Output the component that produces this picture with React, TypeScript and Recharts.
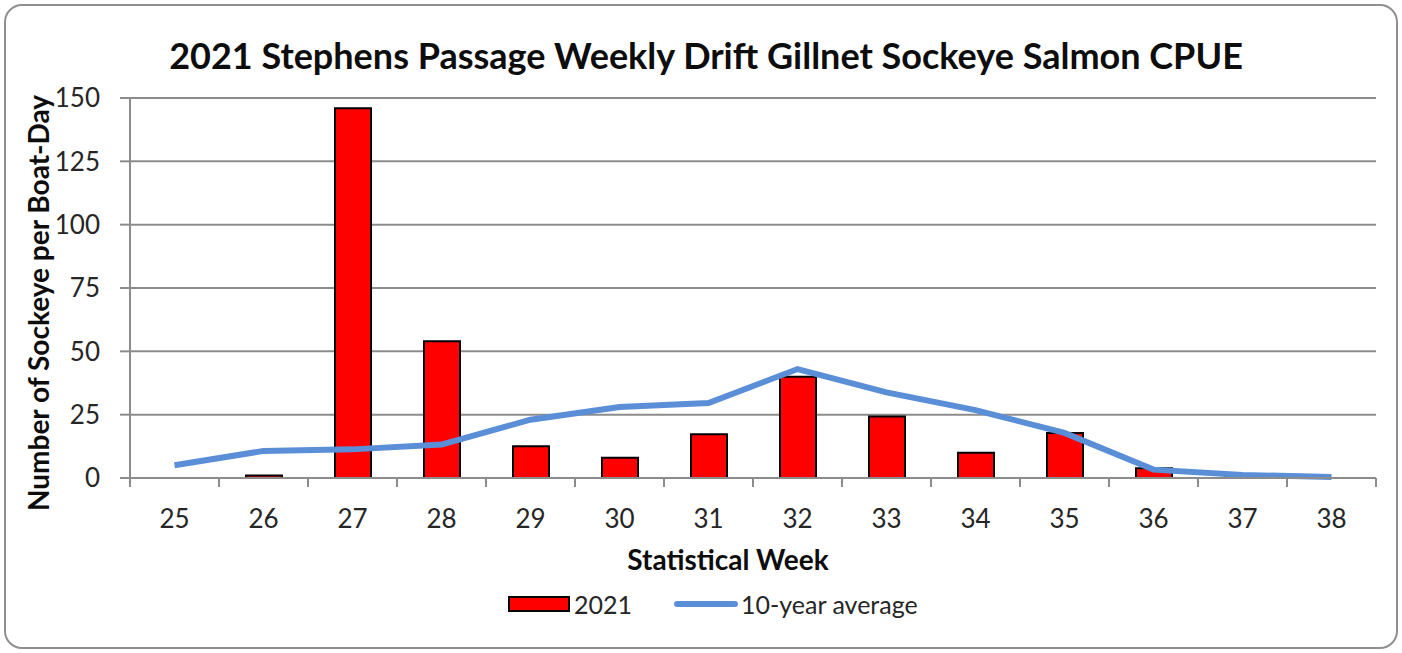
import React from 'react';
import { ComposedChart, Bar, Line, XAxis, YAxis, CartesianGrid } from 'recharts';

const weeks = ['25', '26', '27', '28', '29', '30', '31', '32', '33', '34', '35', '36', '37', '38'];
const cpue2021 = [0, 1, 146, 54, 12.5, 8, 17.3, 40, 24.3, 10, 17.8, 3.8, 1.5, 0];
const tenYearAvg = [5, 10.7, 11.3, 13.2, 23, 28, 29.6, 43, 33.8, 26.8, 17.8, 3.3, 1.2, 0.4];
const yTicks = [0, 25, 50, 75, 100, 125, 150];

const chartData = weeks.map((w, i) => ({ week: w, y2021: cpue2021[i], avg: tenYearAvg[i] }));

const FONT = 'Lato, "Open Sans", sans-serif';
const GRID = '#8c8c8c';
const BLUE = '#5a8fd8';

// Excel puts the x tick marks on the category boundaries, so draw them ourselves
const WeekTick = (props: any) => {
  const { x, y, payload, index } = props;
  const half = 1246 / weeks.length / 2;
  return (
    <g>
      <line x1={x - half} x2={x - half} y1={y} y2={y + 9} stroke={GRID} strokeWidth={2} />
      {index === weeks.length - 1 && (
        <line x1={x + half} x2={x + half} y1={y} y2={y + 9} stroke={GRID} strokeWidth={2} />
      )}
      <text x={x} y={y + 50} textAnchor="middle" fill="#262626" fontSize={26} fontFamily={FONT}>
        {payload.value}
      </text>
    </g>
  );
};

export default function App() {
  return (
    <div style={{ position: 'absolute', left: 0, top: 0, width: 1402, height: 653, background: '#fff' }}>
      <div
        style={{
          position: 'absolute', left: 4, top: 4, width: 1390, height: 641,
          border: '2px solid #8f8f8f', borderRadius: 18,
        }}
      />
      <div
        style={{
          position: 'absolute', left: 0, top: 34, width: 1412, textAlign: 'center', lineHeight: '43px',
          fontFamily: FONT, fontWeight: 700, fontSize: 36, color: '#0d0d0d',
        }}
      >
        2021 Stephens Passage Weekly Drift Gillnet Sockeye Salmon CPUE
      </div>
      <div style={{ position: 'absolute', left: 38, top: 303, width: 0, height: 0 }}>
        <div
          style={{
            position: 'absolute', left: 0, top: 0, transform: 'translate(-50%, -50%) rotate(-90deg)',
            whiteSpace: 'nowrap', fontFamily: FONT, fontWeight: 700, fontSize: 28, lineHeight: '34px', color: '#0d0d0d',
          }}
        >
          Number of Sockeye per Boat-Day
        </div>
      </div>
      <div
        style={{
          position: 'absolute', left: 0, top: 542, width: 1456, textAlign: 'center', lineHeight: '34px',
          fontFamily: FONT, fontWeight: 700, fontSize: 28, color: '#0d0d0d',
        }}
      >
        Statistical Week
      </div>
      <div
        style={{
          position: 'absolute', left: 508, top: 589, height: 30, display: 'flex', alignItems: 'center',
          fontFamily: FONT, fontSize: 25, lineHeight: '30px', color: '#262626',
        }}
      >
        <span style={{ display: 'inline-block', width: 58, height: 12, background: '#ff0000', border: '2px solid #000' }} />
        <span style={{ marginLeft: 4 }}>2021</span>
        <span style={{ display: 'inline-block', width: 64, height: 6, borderRadius: 3, background: BLUE, marginLeft: 42 }} />
        <span style={{ marginLeft: 3 }}>10-year average</span>
      </div>
      <ComposedChart
        width={1402}
        height={653}
        data={chartData}
        margin={{ top: 98, right: 26, bottom: 135, left: 60 }}
        style={{ position: 'absolute', left: 0, top: 0 }}
      >
        <CartesianGrid vertical={false} stroke={GRID} strokeWidth={2} />
        <XAxis
          dataKey="week"
          height={40}
          axisLine={{ stroke: GRID, strokeWidth: 2 }}
          tickLine={false}
          tickSize={0}
          tickMargin={0}
          tick={<WeekTick />}
          interval={0}
        />
        <YAxis
          width={70}
          domain={[0, 150]}
          ticks={yTicks}
          interval={0}
          tickSize={10}
          tickMargin={20}
          axisLine={{ stroke: GRID, strokeWidth: 2 }}
          tickLine={{ stroke: GRID, strokeWidth: 2 }}
          tick={{ fill: '#262626', fontSize: 26, fontFamily: FONT }}
        />
        <Bar dataKey="y2021" fill="#ff0000" stroke="#000" strokeWidth={2} barSize={36} isAnimationActive={false} />
        <Line
          dataKey="avg"
          type="linear"
          stroke={BLUE}
          strokeWidth={6}
          dot={false}
          isAnimationActive={false}
        />
      </ComposedChart>
    </div>
  );
}
